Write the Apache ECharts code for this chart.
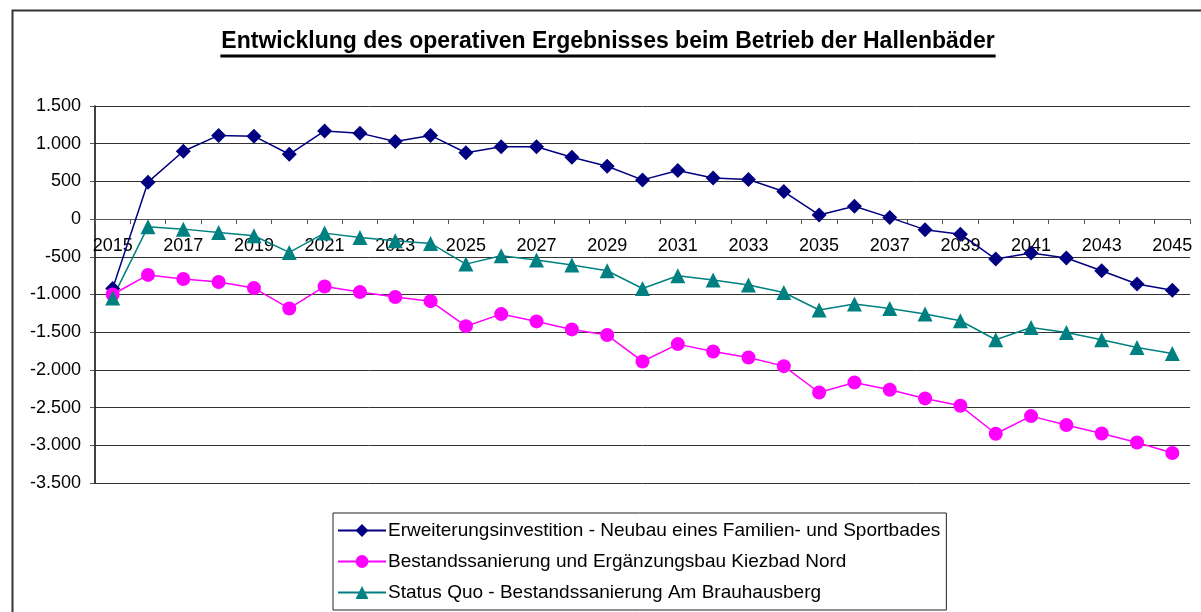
<!DOCTYPE html>
<html>
<head>
<meta charset="utf-8">
<script src="https://cdn.jsdelivr.net/npm/echarts@6/dist/echarts.min.js"></script>
<style>
  html, body { margin: 0; padding: 0; background: #fff; }
  #chart { width: 1201px; height: 612px; }
</style>
</head>
<body>
<div id="chart"></div>
<script>
// Jahre und Werte (Tsd. EUR)
const years = ['2015','2016','2017','2018','2019','2020','2021','2022','2023','2024',
  '2025','2026','2027','2028','2029','2030','2031','2032','2033','2034',
  '2035','2036','2037','2038','2039','2040','2041','2042','2043','2044','2045'];

const neubau = [-920, 490, 900, 1110, 1100, 860, 1170, 1140, 1030, 1110,
  880, 960, 960, 820, 700, 520, 645, 545, 525, 365,
  55, 170, 20, -140, -200, -530, -450, -515, -685, -860, -945];

const kiezbad = [-1000, -740, -795, -835, -915, -1185, -893, -968, -1034, -1088,
  -1420, -1260, -1357, -1463, -1538, -1888, -1658, -1755, -1835, -1950,
  -2300, -2166, -2264, -2378, -2476, -2847, -2613, -2732, -2843, -2962, -3103];

const statusQuo = [-1045, -100, -133, -177, -221, -442, -186, -243, -287, -323,
  -597, -486, -544, -610, -685, -920, -751, -809, -875, -973,
  -1205, -1127, -1185, -1260, -1348, -1600, -1437, -1503, -1600, -1702, -1782];

const seriesNames = [
  'Erweiterungsinvestition - Neubau eines Familien- und Sportbades',
  'Bestandssanierung und Ergänzungsbau Kiezbad Nord',
  'Status Quo - Bestandssanierung Am Brauhausberg'
];

const titleText = 'Entwicklung des operativen Ergebnisses beim Betrieb der Hallenbäder';
const font = '"Liberation Sans", Arial, sans-serif';

// Breite des Titels messen fuer die Unterstreichung
const ctx = document.createElement('canvas').getContext('2d');
ctx.font = 'bold 23px ' + font;
const titleW = ctx.measureText(titleText).width;
const titleX = 608;

function fmt(v) {
  const s = Math.abs(v).toString().replace(/\B(?=(\d{3})+(?!\d))/g, '.');
  return (v < 0 ? '-' : '') + s;
}

const yMin = -3500, yMax = 1500;
const gridTop = 106, gridBottom = 129, chartH = 612;
// x-Achse liegt bei 0 -> Abstand vom unteren Rand des Plots
const plotH = chartH - gridTop - gridBottom;
const zeroOffset = -plotH * (0 - yMin) / (yMax - yMin);

const chart = echarts.init(document.getElementById('chart'));
chart.setOption({
  animation: false,
  textStyle: { fontFamily: font },
  graphic: [
    { type: 'rect', left: 10, top: 8, silent: true,
      shape: { width: 1200, height: 620 },
      style: { fill: 'none', stroke: '#333', lineWidth: 2 } },
    { type: 'text', x: titleX, y: 42, silent: true,
      style: { text: titleText, font: 'bold 23px ' + font, fill: '#000',
               align: 'center', verticalAlign: 'middle' } },
    { type: 'line', silent: true,
      shape: { x1: titleX - titleW / 2 - 1, y1: 56, x2: titleX + titleW / 2 + 1, y2: 56 },
      style: { stroke: '#000', lineWidth: 3 } }
  ],
  grid: { left: 95, right: 11, top: gridTop, bottom: gridBottom },
  legend: {
    orient: 'vertical',
    left: 333, top: 513,
    padding: [8, 6, 8, 4],
    itemGap: 12,
    itemWidth: 48,
    itemHeight: 16,
    borderColor: '#222',
    borderWidth: 1,
    textStyle: { fontSize: 19, color: '#000', fontFamily: font, padding: [0, 0, 0, -3] },
    data: seriesNames
  },
  xAxis: [{
    type: 'category',
    data: years,
    position: 'bottom',
    offset: zeroOffset,
    axisLine: { onZero: false, lineStyle: { color: '#555', width: 1 } },
    axisTick: { show: true, interval: 0, length: 5, lineStyle: { color: '#555' } },
    axisLabel: { interval: 1, fontSize: 18, color: '#000', margin: 18, fontFamily: font }
  }],
  yAxis: [{
    type: 'value',
    position: 'left',
    min: yMin, max: yMax, interval: 500,
    axisLine: { show: true, onZero: false, lineStyle: { color: '#000', width: 1.5 } },
    axisTick: { show: true, length: 5, lineStyle: { color: '#555' } },
    axisLabel: { fontSize: 18, color: '#000', margin: 14, formatter: fmt, fontFamily: font },
    splitLine: { lineStyle: { color: '#333', width: 1 } }
  }],
  series: [
    { name: seriesNames[0], type: 'line', data: neubau, color: '#000080',
      symbol: 'diamond', symbolSize: 15, lineStyle: { width: 1.5 } },
    { name: seriesNames[1], type: 'line', data: kiezbad, color: '#FF00FF',
      symbol: 'circle', symbolSize: 14, lineStyle: { width: 1.5 } },
    { name: seriesNames[2], type: 'line', data: statusQuo, color: '#008080',
      symbol: 'triangle', symbolSize: 15, lineStyle: { width: 1.5 } }
  ]
});
</script>
</body>
</html>
